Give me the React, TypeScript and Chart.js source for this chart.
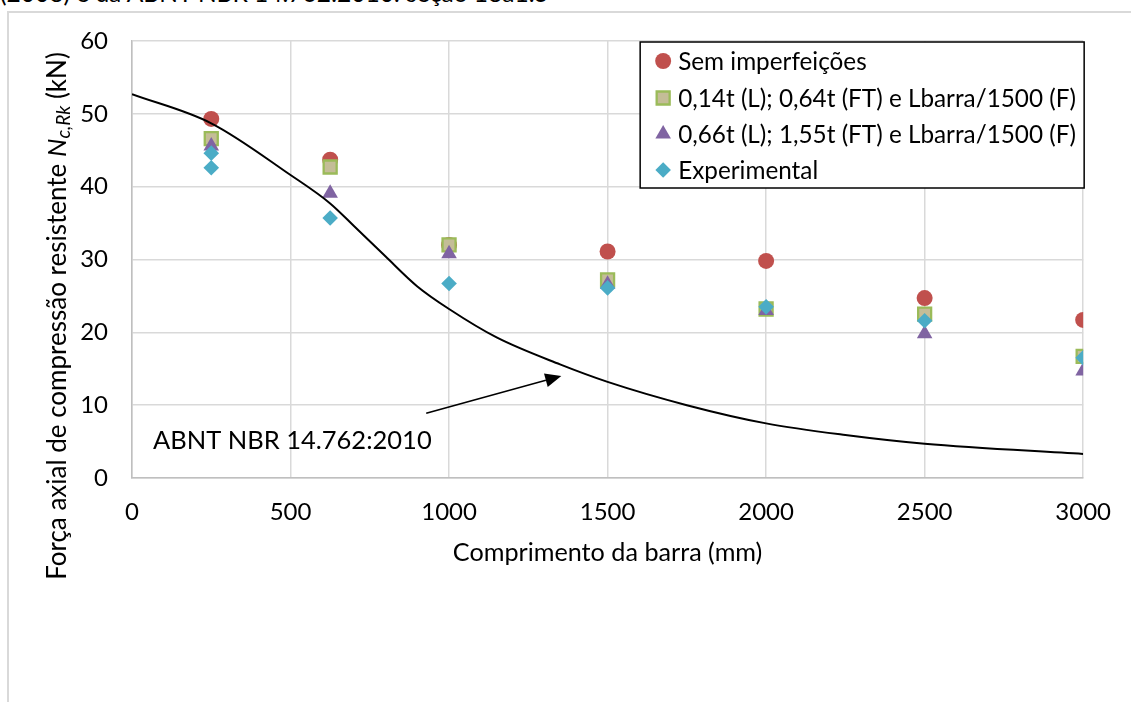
import React, { useEffect, useRef } from 'react';
import { Chart, registerables } from 'chart.js';

Chart.register(...registerables);

const FONT = 'Lato';

// ---- data ----
const xTickStep = 500;
const xMax = 3000;
const yTickStep = 10;
const yMax = 60;

const lengths = [250, 625, 1000, 1500, 2000, 2500, 3000];
const semImperfeicoes = [49.3, 43.7, 32.0, 31.1, 29.8, 24.7, 21.7];
const imperf014 = [46.6, 42.7, 32.0, 27.2, 23.2, 22.5, 16.7];
const imperf066 = [45.6, 39.1, 30.8, 26.6, 23.0, 19.8, 14.7];

const expLengths = [250, 250, 625, 1000, 1500, 2000, 2500, 3000];
const experimental = [44.6, 42.6, 35.7, 26.7, 26.1, 23.5, 21.6, 16.5];

const abntLengths = [0, 250, 500, 625, 700, 800, 900, 1000, 1150, 1350, 1500, 1750, 2000, 2250, 2500, 3000];
const abntValues = [52.7, 48.7, 41.6, 37.7, 34.6, 30.4, 26.3, 23.2, 19.3, 15.6, 13.2, 10.0, 7.5, 5.9, 4.7, 3.3];

const seriesLabels = [
  'Sem imperfeições',
  '0,14t (L); 0,64t (FT) e Lbarra/1500 (F)',
  '0,66t (L); 1,55t (FT) e Lbarra/1500 (F)',
  'Experimental',
];
const curveLabel = 'ABNT NBR 14.762:2010';
const xTitle = 'Comprimento da barra (mm)';
const yTitlePre = 'Força axial de compressão resistente ';
const yTitleN = 'N';
const yTitleSub = 'c,Rk';
const yTitlePost = ' (kN)';
const captionText = '(2008) e da ABNT NBR 14.762:2010: seção 18a1.5';

// annotation anchor points (data units)
const labelAt = { x: 66, y: 5.1 };
const arrowFrom = { x: 928, y: 8.9 };
const arrowTo = { x: 1354, y: 14.0 };

// ---- styles ----
const RED = '#C0504D';
const TAN = '#C4BD97';
const GREEN = '#9BBB59';
const PURPLE = '#8064A2';
const CYAN = '#4BACC6';

const pts = (xs: number[], ys: number[]) => xs.map((x, i) => ({ x, y: ys[i] }));

function drawMarker(ctx: CanvasRenderingContext2D, kind: string, x: number, y: number) {
  ctx.save();
  ctx.beginPath();
  if (kind === 'circle') {
    ctx.arc(x, y, 8, 0, Math.PI * 2);
    ctx.fillStyle = RED;
    ctx.fill();
  } else if (kind === 'rect') {
    ctx.rect(x - 6.5, y - 6.5, 13, 13);
    ctx.fillStyle = TAN;
    ctx.fill();
    ctx.lineWidth = 2.3;
    ctx.strokeStyle = GREEN;
    ctx.stroke();
  } else if (kind === 'triangle') {
    const r = 9;
    ctx.moveTo(x, y - r);
    ctx.lineTo(x + r * 0.866, y + r / 2);
    ctx.lineTo(x - r * 0.866, y + r / 2);
    ctx.closePath();
    ctx.fillStyle = PURPLE;
    ctx.fill();
  } else {
    const r = 7.8;
    ctx.moveTo(x, y - r);
    ctx.lineTo(x + r, y);
    ctx.lineTo(x, y + r);
    ctx.lineTo(x - r, y);
    ctx.closePath();
    ctx.fillStyle = CYAN;
    ctx.fill();
  }
  ctx.restore();
}

const overlayPlugin = {
  id: 'overlay',
  afterDatasetsDraw(chart: any) {
    const { ctx, chartArea } = chart;
    const xs = chart.scales.x;
    const ys = chart.scales.y;

    // annotation arrow
    const x0 = xs.getPixelForValue(arrowFrom.x);
    const y0 = ys.getPixelForValue(arrowFrom.y);
    const x1 = xs.getPixelForValue(arrowTo.x);
    const y1 = ys.getPixelForValue(arrowTo.y);
    const ang = Math.atan2(y1 - y0, x1 - x0);
    const headLen = 16;
    const headHalf = 7;
    const bx = x1 - Math.cos(ang) * headLen;
    const by = y1 - Math.sin(ang) * headLen;
    ctx.save();
    ctx.strokeStyle = '#000';
    ctx.lineWidth = 1.5;
    ctx.beginPath();
    ctx.moveTo(x0, y0);
    ctx.lineTo(bx, by);
    ctx.stroke();
    ctx.beginPath();
    ctx.moveTo(x1, y1);
    ctx.lineTo(bx + Math.sin(ang) * headHalf, by - Math.cos(ang) * headHalf);
    ctx.lineTo(bx - Math.sin(ang) * headHalf, by + Math.cos(ang) * headHalf);
    ctx.closePath();
    ctx.fillStyle = '#000';
    ctx.fill();

    // annotation label
    ctx.font = `25.5px ${FONT}`;
    ctx.textAlign = 'left';
    ctx.textBaseline = 'middle';
    ctx.fillText(curveLabel, xs.getPixelForValue(labelAt.x), ys.getPixelForValue(labelAt.y));

    // legend box
    const boxW = 444;
    const boxH = 146;
    const left = chartArea.right + 1 - boxW;
    const top = chartArea.top + 1;
    ctx.fillStyle = '#fff';
    ctx.fillRect(left, top, boxW, boxH);
    ctx.lineWidth = 1.5;
    ctx.strokeStyle = '#000';
    ctx.strokeRect(left, top, boxW, boxH);
    const kinds = ['circle', 'rect', 'triangle', 'diamond'];
    const rowY = [19, 56, 92, 128];
    kinds.forEach((k, i) => {
      drawMarker(ctx, k, left + 23, top + rowY[i]);
      ctx.fillStyle = '#000';
      ctx.font = `24.3px ${FONT}`;
      ctx.textBaseline = 'middle';
      ctx.fillText(seriesLabels[i], left + 38, top + rowY[i] + 1);
    });
    ctx.restore();
  },
  afterDraw(chart: any) {
    const { ctx } = chart;
    ctx.save();
    ctx.translate(58, 316);
    ctx.rotate(-Math.PI / 2);
    const parts: [string, string, number][] = [
      [yTitlePre, `26px ${FONT}`, 0],
      [yTitleN, `italic 26px ${FONT}`, 0],
      [yTitleSub, `italic 19px ${FONT}`, 6],
      [yTitlePost, `26px ${FONT}`, 0],
    ];
    let total = 0;
    const widths = parts.map(([t, f]) => {
      ctx.font = f;
      const w = ctx.measureText(t).width;
      total += w;
      return w;
    });
    let cx = -total / 2;
    ctx.fillStyle = '#000';
    ctx.textBaseline = 'middle';
    ctx.textAlign = 'left';
    parts.forEach(([t, f, dy], i) => {
      ctx.font = f;
      ctx.fillText(t, cx, dy);
      cx += widths[i];
    });
    ctx.restore();
  },
};

export default function App() {
  const canvasRef = useRef<HTMLCanvasElement>(null);

  useEffect(() => {
    const canvas = canvasRef.current;
    if (!canvas) return;
    Chart.defaults.font.family = FONT;
    Chart.defaults.font.size = 24;
    Chart.defaults.color = '#000';

    const chart = new Chart(canvas, {
      type: 'scatter',
      data: {
        datasets: [
          {
            label: curveLabel,
            data: pts(abntLengths, abntValues),
            showLine: true,
            borderColor: '#000',
            borderWidth: 2,
            pointRadius: 0,
            cubicInterpolationMode: 'monotone',
            fill: false,
            order: 0,
          } as any,
          {
            label: seriesLabels[3],
            data: pts(expLengths, experimental),
            pointStyle: 'rectRot',
            pointRadius: 7.8,
            pointBackgroundColor: CYAN,
            pointBorderWidth: 0,
            order: 1,
          },
          {
            label: seriesLabels[2],
            data: pts(lengths, imperf066),
            pointStyle: 'triangle',
            pointRadius: 9,
            pointBackgroundColor: PURPLE,
            pointBorderWidth: 0,
            order: 2,
          },
          {
            label: seriesLabels[1],
            data: pts(lengths, imperf014),
            pointStyle: 'rect',
            pointRadius: 9.2,
            pointBackgroundColor: TAN,
            pointBorderColor: GREEN,
            pointBorderWidth: 2.3,
            order: 3,
          },
          {
            label: seriesLabels[0],
            data: pts(lengths, semImperfeicoes),
            pointStyle: 'circle',
            pointRadius: 8,
            pointBackgroundColor: RED,
            pointBorderWidth: 0,
            order: 4,
          },
        ],
      },
      options: {
        responsive: false,
        animation: false,
        devicePixelRatio: 1,
        layout: { padding: { left: 0, top: 41, right: 46, bottom: 124 } },
        plugins: {
          legend: { display: false },
          tooltip: { enabled: false },
        },
        events: [],
        scales: {
          x: {
            type: 'linear',
            min: 0,
            max: xMax,
            ticks: {
              stepSize: xTickStep,
              padding: 20,
              color: '#000',
              callback: (v: any) => String(v),
            },
            grid: { color: '#d9d9d9', lineWidth: 1.5, drawTicks: false },
            border: { color: '#bfbfbf', width: 1.5 },
            title: {
              display: true,
              text: xTitle,
              color: '#000',
              font: { size: 25.2 },
              padding: { top: 0, bottom: 10 },
            },
            afterFit: (s: any) => {
              s.height = 100;
            },
          },
          y: {
            type: 'linear',
            min: 0,
            max: yMax,
            ticks: {
              stepSize: yTickStep,
              padding: 24,
              color: '#000',
              callback: (v: any) => String(v),
            },
            grid: { color: '#d9d9d9', lineWidth: 1.5, drawTicks: false },
            border: { color: '#bfbfbf', width: 1.5 },
            afterFit: (s: any) => {
              s.width = 132;
            },
          },
        },
      },
      plugins: [overlayPlugin],
    });
    return () => chart.destroy();
  }, []);

  return (
    <div
      style={{
        position: 'fixed',
        left: 0,
        top: 0,
        width: 1131,
        height: 702,
        overflow: 'hidden',
        background: '#fff',
      }}
    >
      <div
        style={{
          position: 'absolute',
          left: 0,
          top: -19,
          font: `24.5px ${FONT}`,
          lineHeight: '24px',
          whiteSpace: 'nowrap',
          color: '#000',
        }}
      >
        {captionText}
      </div>
      <div
        style={{
          position: 'absolute',
          left: 7,
          top: 11,
          width: 1140,
          height: 700,
          borderLeft: '2px solid #d9d9d9',
          borderTop: '2px solid #d9d9d9',
        }}
      />
      <canvas
        ref={canvasRef}
        width={1131}
        height={702}
        style={{ position: 'absolute', left: 0, top: 0, display: 'block' }}
      />
    </div>
  );
}
